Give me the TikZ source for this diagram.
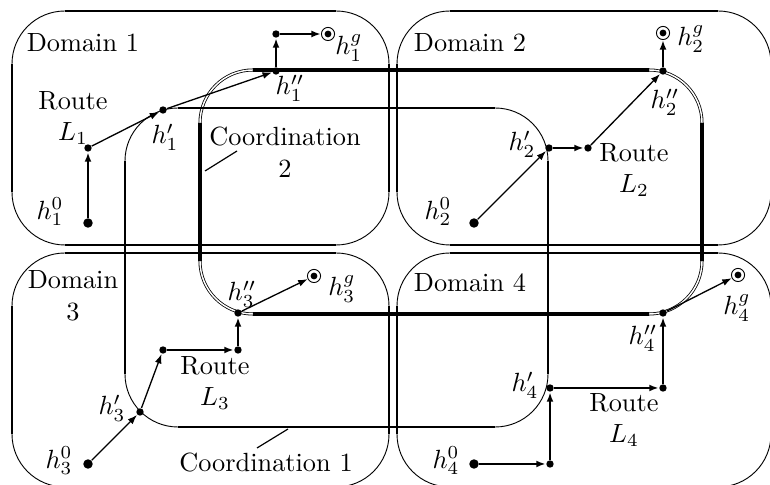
\documentclass[tikz,border=0pt]{standalone}
\usetikzlibrary{arrows.meta}
\tikzset{>={Latex[length=3.6pt,width=2.6pt]}}
\tikzset{
  corner/.style={line width=0.35pt, rounded corners=20.1pt},
  edge/.style={line width=0.8pt},
  coordcorner/.style={double, line width=0.3pt, double distance=0.55pt, rounded corners=20.1pt},
  coordedge/.style={line width=1.4pt},
  dot/.style={circle, fill, inner sep=0pt, minimum size=2.8pt},
  start/.style={dot, minimum size=3.6pt},
  goal/.style={circle, draw, line width=0.35pt, inner sep=0pt, minimum size=5pt,
    path picture={\fill (path picture bounding box.center) circle (1.3pt);}},
  route/.style={->, line width=0.5pt},
  hop/.style={->, line width=0.9pt},
  lab/.style={inner sep=1pt},
}
% rounded box: thin corners, straight sides drawn again with the edge style
\newcommand{\regionbox}[6]{%
  \draw[#5] (#1,#2) rectangle (#3,#4);
  \draw[#6] (#1+53,#2) -- (#3-53,#2) (#1+53,#4) -- (#3-53,#4)
    (#1,#2+53) -- (#1,#4-53) (#3,#2+53) -- (#3,#4-53);}

\begin{document}
\begin{tikzpicture}[x=0.38pt, y=-0.38pt]
\useasboundingbox (0,0) rectangle (770,485);

% domains
\regionbox{12}{11}{389}{245}{corner}{edge}
\regionbox{397}{11}{771}{245}{corner}{edge}
\regionbox{12}{253}{389}{487}{corner}{edge}
\regionbox{397}{253}{771}{487}{corner}{edge}

% coordination areas
\regionbox{200}{70}{702}{314}{coordcorner}{coordedge}
\regionbox{125}{108}{548}{427}{corner}{edge}

\node[lab] (dom1) at (83,43) {Domain 1};
\node[lab] (dom2) at (470,43) {Domain 2};
\node[lab, align=center] (dom3) at (73,296) {Domain\\3};
\node[lab] (dom4) at (470,283) {Domain 4};

\node[lab, align=center] (co2) at (285,152) {Coordination\\2};
\coordinate (co2a) at (205,171);
\coordinate (co2b) at (237,151);
\draw[line width=0.45pt] (co2a) -- (co2b);
\node[lab] (co1) at (266,463) {Coordination 1};
\coordinate (co1a) at (257,448);
\coordinate (co1b) at (288,429);
\draw[line width=0.45pt] (co1a) -- (co1b);

% route 1
\node[start] (h1z) at (88,223) {};
\node[dot] (r1a) at (88,148) {};
\node[dot] (h1p) at (163,110) {};
\node[dot] (h1pp) at (276,71) {};
\node[dot] (r1b) at (276,34) {};
\node[goal] (h1g) at (328,34) {};
\draw[hop] (h1z) -- (r1a);
\draw[route] (r1a) -- (h1p);
\draw[route] (h1p) -- (h1pp);
\draw[hop] (h1pp) -- (r1b);
\draw[hop] (r1b) -- (h1g);
\node[lab] (l1z) at (50,212) {$h_1^0$};
\node[lab, align=center] (l1r) at (73,118) {Route\\$L_1$};
\node[lab] (l1p) at (165,137) {$h_1'$};
\node[lab] (l1pp) at (290,88) {$h_1''$};
\node[lab] (l1g) at (349,48) {$h_1^g$};

% route 2
\node[start] (h2z) at (474,223) {};
\node[dot] (h2p) at (549,148) {};
\node[dot] (r2a) at (588,148) {};
\node[dot] (h2pp) at (663,71) {};
\node[goal] (h2g) at (663,33) {};
\draw[route] (h2z) -- (h2p);
\draw[hop] (h2p) -- (r2a);
\draw[route] (r2a) -- (h2pp);
\draw[hop] (h2pp) -- (h2g);
\node[lab] (l2z) at (438,212) {$h_2^0$};
\node[lab] (l2p) at (522,144) {$h_2'$};
\node[lab, align=center] (l2r) at (634,170) {Route\\$L_2$};
\node[lab] (l2pp) at (665,102) {$h_2''$};
\node[lab] (l2g) at (691,39) {$h_2^g$};

% route 3
\node[start] (h3z) at (88,464) {};
\node[dot] (h3p) at (140,412) {};
\node[dot] (r3a) at (163,350) {};
\node[dot] (r3b) at (238,350) {};
\node[dot] (h3pp) at (238,313) {};
\node[goal] (h3g) at (314,276) {};
\draw[route] (h3z) -- (h3p);
\draw[route] (h3p) -- (r3a);
\draw[hop] (r3a) -- (r3b);
\draw[hop] (r3b) -- (h3pp);
\draw[route] (h3pp) -- (h3g);
\node[lab] (l3z) at (59,461) {$h_3^0$};
\node[lab] (l3p) at (112,408) {$h_3'$};
\node[lab, align=center] (l3r) at (215,383) {Route\\$L_3$};
\node[lab] (l3pp) at (242,294) {$h_3''$};
\node[lab] (l3g) at (342,289) {$h_3^g$};

% route 4
\node[start] (h4z) at (474,464) {};
\node[dot] (r4a) at (550,464) {};
\node[dot] (h4p) at (550,388) {};
\node[dot] (r4b) at (663,388) {};
\node[dot] (h4pp) at (663,313) {};
\node[goal] (h4g) at (738,275) {};
\draw[hop] (h4z) -- (r4a);
\draw[hop] (r4a) -- (h4p);
\draw[hop] (h4p) -- (r4b);
\draw[hop] (r4b) -- (h4pp);
\draw[route] (h4pp) -- (h4g);
\node[lab] (l4z) at (446,461) {$h_4^0$};
\node[lab] (l4p) at (525,385) {$h_4'$};
\node[lab, align=center] (l4r) at (624,420) {Route\\$L_4$};
\node[lab] (l4pp) at (643,338) {$h_4''$};
\node[lab] (l4g) at (737,308) {$h_4^g$};
\end{tikzpicture}
\end{document}
